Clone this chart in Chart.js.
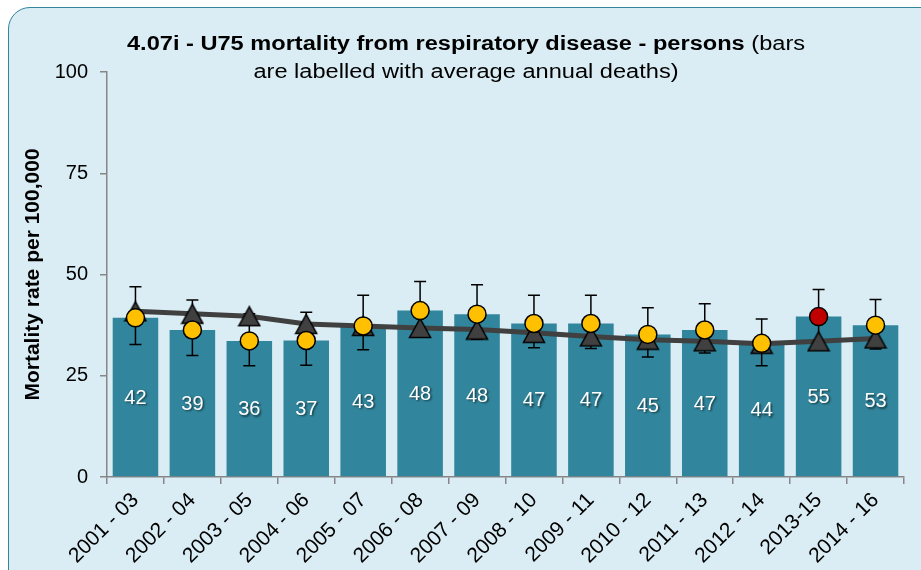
<!DOCTYPE html>
<html>
<head>
<meta charset="utf-8">
<script src="https://cdn.jsdelivr.net/npm/chart.js@4.4.0/dist/chart.umd.min.js"></script>
<style>
html, body { margin: 0; padding: 0; background: #fff; overflow: hidden; }
#panel { position: absolute; left: 8px; top: 7px; width: 935px; height: 585px; box-sizing: border-box;
         border: 1.5px solid #31859c; border-radius: 22px; background: #daedf4; }
#chart { position: absolute; left: 0; top: 0; }
</style>
</head>
<body>
<div id="panel"></div>
<canvas id="chart" width="921" height="570"></canvas>
<script>
// U75 respiratory mortality, directly standardised rate per 100,000
var periods = ['2001 - 03', '2002 - 04', '2003 - 05', '2004 - 06', '2005 - 07', '2006 - 08', '2007 - 09',
               '2008 - 10', '2009 - 11', '2010 - 12', '2011 - 13', '2012 - 14', '2013-15', '2014 - 16'];
var rates   = [39.3, 36.3, 33.6, 33.7, 37.3, 41.1, 40.2, 37.9, 37.9, 35.2, 36.3, 33.0, 39.6, 37.5];
var lowerCI = [32.7, 30.0, 27.5, 27.6, 31.4, 34.5, 34.0, 31.9, 31.7, 29.6, 30.6, 27.5, 33.2, 31.6];
var upperCI = [47.0, 43.7, 40.3, 40.7, 44.9, 48.3, 47.5, 44.9, 44.9, 41.8, 42.8, 39.0, 46.3, 43.8];
var england = [40.9, 40.3, 39.7, 37.8, 37.3, 36.8, 36.4, 35.6, 34.7, 33.9, 33.5, 32.9, 33.5, 34.2];
var deaths  = [42, 39, 36, 37, 43, 48, 48, 47, 47, 45, 47, 44, 55, 53];
var compared = ['similar', 'similar', 'similar', 'similar', 'similar', 'similar', 'similar',
                'similar', 'similar', 'similar', 'similar', 'similar', 'higher', 'similar'];

var FONT = '"Liberation Sans", Arial, sans-serif';
var dotColours = compared.map(function (c) { return c === 'higher' ? '#c00000' : '#ffc000'; });

// triangle marker centred on its box, like the spreadsheet one
var tri = document.createElement('canvas');
tri.width = 24; tri.height = 22;
(function () {
  var c = tri.getContext('2d');
  c.beginPath();
  c.moveTo(12, 1.5);
  c.lineTo(22.5, 20.5);
  c.lineTo(1.5, 20.5);
  c.closePath();
  c.fillStyle = '#404040';
  c.fill();
  c.lineWidth = 1.5;
  c.strokeStyle = '#000';
  c.stroke();
})();

var extras = {
  id: 'extras',
  afterDatasetDraw: function (chart, args) {
    if (args.index !== 0) return;
    var ctx = chart.ctx, y = chart.scales.y;
    ctx.save();
    // confidence intervals
    ctx.strokeStyle = '#000';
    ctx.lineWidth = 1.5;
    args.meta.data.forEach(function (bar, i) {
      var lo = y.getPixelForValue(lowerCI[i]), hi = y.getPixelForValue(upperCI[i]);
      ctx.beginPath();
      ctx.moveTo(bar.x, lo); ctx.lineTo(bar.x, hi);
      ctx.moveTo(bar.x - 6, lo); ctx.lineTo(bar.x + 6, lo);
      ctx.moveTo(bar.x - 6, hi); ctx.lineTo(bar.x + 6, hi);
      ctx.stroke();
    });
    // average annual deaths
    ctx.font = '20px ' + FONT;
    ctx.fillStyle = '#fff';
    ctx.textAlign = 'center';
    ctx.textBaseline = 'middle';
    ctx.shadowColor = 'rgba(0,0,0,0.55)';
    ctx.shadowOffsetX = 1.5;
    ctx.shadowOffsetY = 1.5;
    ctx.shadowBlur = 2;
    args.meta.data.forEach(function (bar, i) {
      ctx.fillText(deaths[i], bar.x, (bar.y + bar.base) / 2 + 1);
    });
    ctx.restore();
  },
  afterDraw: function (chart) {
    var ctx = chart.ctx;
    var bold = '4.07i - U75 mortality from respiratory disease - persons';
    var rest = ' (bars';
    var line2 = 'are labelled with average annual deaths)';
    var cx = 466, sx = 1.18;
    ctx.save();
    ctx.fillStyle = '#000';
    ctx.textBaseline = 'alphabetic';
    ctx.textAlign = 'left';
    ctx.font = 'bold 20px ' + FONT;
    var wb = ctx.measureText(bold).width;
    ctx.font = '20px ' + FONT;
    var wr = ctx.measureText(rest).width;
    var w2 = ctx.measureText(line2).width;
    ctx.translate(cx, 0);
    ctx.scale(sx, 1);
    var x0 = -(wb + wr) / 2;
    ctx.font = 'bold 20px ' + FONT;
    ctx.fillText(bold, x0, 50);
    ctx.font = '20px ' + FONT;
    ctx.fillText(rest, x0 + wb, 50);
    ctx.fillText(line2, -w2 / 2, 78);
    ctx.restore();
  }
};

new Chart(document.getElementById('chart'), {
  type: 'bar',
  data: {
    labels: periods,
    datasets: [{
      type: 'bar',
      label: 'Rate',
      data: rates,
      backgroundColor: '#31859c',
      barPercentage: 0.8,
      categoryPercentage: 1,
      order: 3
    }, {
      type: 'line',
      label: 'England',
      data: england,
      borderColor: '#404040',
      borderWidth: 5,
      pointStyle: tri,
      order: 2
    }, {
      type: 'line',
      label: 'Rate',
      data: rates,
      showLine: false,
      pointRadius: 9,
      pointBackgroundColor: dotColours,
      pointBorderColor: '#000',
      pointBorderWidth: 1.5,
      order: 1
    }]
  },
  options: {
    responsive: false,
    animation: false,
    layout: { padding: { top: 72, right: 17, bottom: 0, left: 0 } },
    plugins: { legend: { display: false }, tooltip: { enabled: false } },
    scales: {
      x: {
        afterFit: function (s) { s.height = 93; },
        grid: { offset: true, drawOnChartArea: false, tickLength: 7, color: '#868686', lineWidth: 1.5 },
        border: { color: '#868686', width: 1.5 },
        ticks: { color: '#000', font: { family: FONT, size: 21 }, maxRotation: 45, minRotation: 45, padding: 4 }
      },
      y: {
        min: 0,
        max: 100,
        afterFit: function (s) { s.width = 107; },
        grid: { drawOnChartArea: false, tickLength: 7, color: '#868686', lineWidth: 1.5 },
        border: { color: '#868686', width: 1.5 },
        ticks: { stepSize: 25, color: '#000', font: { family: FONT, size: 20 }, padding: 12 },
        title: {
          display: true,
          text: 'Mortality rate per 100,000',
          color: '#000',
          font: { family: FONT, size: 21, weight: 'bold' },
          padding: { top: 21, bottom: 0 }
        }
      }
    }
  },
  plugins: [extras]
});
</script>
</body>
</html>
